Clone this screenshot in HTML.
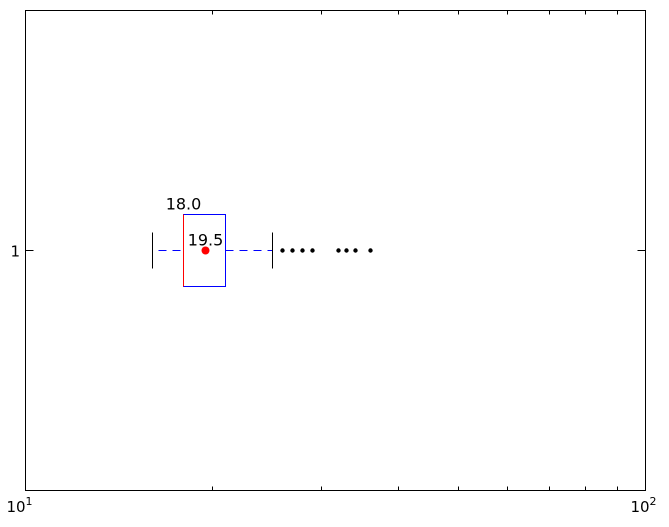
<!DOCTYPE html>
<html><head><meta charset="utf-8"><style>body{margin:0;background:#fff}svg{display:block;font-family:"DejaVu Sans","Liberation Sans",sans-serif}</style></head>
<body>
<svg id="chart" width="669" height="527"></svg>
<script>
const stats = [18, 18, 21, 16, 25]; // median, q1, q3, whisker low, whisker high
const meanValue = [19.5];
const fliers = [26, 27, 28, 29, 32, 33, 34, 36];
const xTickLabels = ["10", "2"];
const yTickLabels = ["1"];

const NS = "http://www.w3.org/2000/svg";
const svg = document.getElementById("chart");
const L = 25.5, R = 645.5, T = 10.5, B = 490.5;
const x = v => Math.round(L + (Math.log10(v) - 1) * (R - L) - 0.5) + 0.5;
const yc = 250.5;
function el(tag, attrs, name, parent) {
  const e = document.createElementNS(NS, tag);
  for (const k in attrs) e.setAttribute(k, attrs[k]);
  
  
  (parent || svg).appendChild(e);
  return e;
}
el('rect', {x: L, y: T, width: R - L, height: B - T, fill: '#fff', stroke: '#000', 'stroke-width': 1}, 'plot-frame');
for (let m = 1; m <= 10; m++) {
  const val = m * 10;
  const px = x(val);
  const len = (m === 1 || m === 10) ? 8 : 4;
  el('line', {x1: px, x2: px, y1: B, y2: B - len, stroke: '#000'}, 'x-tick');
  el('line', {x1: px, x2: px, y1: T, y2: T + len, stroke: '#000'}, 'x-tick-top');
}
el('line', {x1: L, x2: L + 8, y1: yc, y2: yc, stroke: '#000'}, 'y-tick');
el('line', {x1: R, x2: R - 8, y1: yc, y2: yc, stroke: '#000'}, 'y-tick-right');
const t1 = el('text', {x: L - 6, y: 512, 'font-size': 15, 'text-anchor': 'middle'}, 'x-tick-label');
t1.innerHTML = xTickLabels[0] + '<tspan font-size="11" dy="-7">1</tspan>';
const t2 = el('text', {x: R - 2, y: 512, 'font-size': 15, 'text-anchor': 'middle'}, 'x-tick-label');
t2.innerHTML = '10<tspan font-size="11" dy="-7">' + xTickLabels[1] + '</tspan>';
const yl = el('text', {x: 20, y: yc + 6, 'font-size': 15, 'text-anchor': 'end'}, 'y-tick-label');
yl.textContent = yTickLabels[0];

const [med, q1, q3, wl, wh] = stats;
el('line', {x1: x(wl) + 6, x2: x(q1), y1: yc, y2: yc, stroke: '#00f', 'stroke-dasharray': '8,6'}, 'lower-whisker');
el('line', {x1: x(q3), x2: x(wh), y1: yc, y2: yc, stroke: '#00f', 'stroke-dasharray': '8,6'}, 'upper-whisker');
el('line', {x1: x(wl), x2: x(wl), y1: yc - 18, y2: yc + 18, stroke: '#000'}, 'lower-cap');
el('line', {x1: x(wh), x2: x(wh), y1: yc - 18, y2: yc + 18, stroke: '#000'}, 'upper-cap');
el('rect', {x: x(q1), y: yc - 36, width: x(q3) - x(q1), height: 72, fill: 'none', stroke: '#00f'}, 'box');
el('line', {x1: x(med), x2: x(med), y1: yc - 36, y2: yc + 36, stroke: '#f00'}, 'median-line');
el('circle', {cx: x(meanValue[0]), cy: yc, r: 4, fill: '#f00'}, 'mean-marker');
fliers.forEach(f => el('circle', {cx: x(f), cy: yc, r: 2.2, fill: '#000'}, 'flier'));
const ml = el('text', {x: x(med), y: yc - 41, 'font-size': 16, 'text-anchor': 'middle'}, 'median-label');
ml.textContent = med.toFixed(1);
const mnl = el('text', {x: x(meanValue[0]), y: yc - 5, 'font-size': 16, 'text-anchor': 'middle'}, 'mean-label');
mnl.textContent = meanValue[0].toFixed(1);
</script>
</body></html>
